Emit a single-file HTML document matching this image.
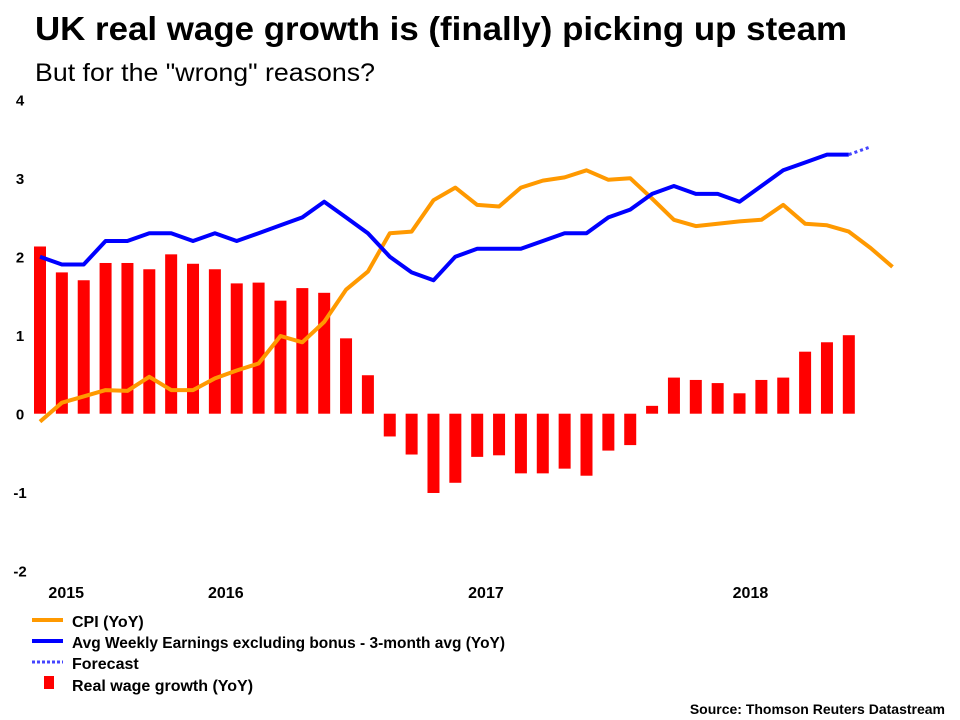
<!DOCTYPE html>
<html><head><meta charset="utf-8"><style>
html,body{margin:0;padding:0;background:#fff;}
svg{display:block;font-family:"Liberation Sans",Arial,sans-serif;}
</style></head><body>
<svg id="chart" width="960" height="720" viewBox="0 0 960 720">
<text x="35" y="40" font-size="33" font-weight="bold" textLength="812" lengthAdjust="spacingAndGlyphs">UK real wage growth is (finally) picking up steam</text>
<text x="35" y="81" font-size="25" textLength="340" lengthAdjust="spacingAndGlyphs">But for the "wrong" reasons?</text>
<g id="yaxis"></g>
<g id="xaxis"></g>
<g id="bars"></g>
<g id="lines"></g>
<g font-size="16" font-weight="bold">
 <g><line x1="32" y1="620" x2="63" y2="620" stroke="#FF9900" stroke-width="4"/><text x="72" y="627">CPI (YoY)</text></g>
 <g><line x1="32" y1="641" x2="63" y2="641" stroke="#0000FF" stroke-width="4"/><text x="72" y="648" textLength="433" lengthAdjust="spacingAndGlyphs">Avg Weekly Earnings excluding bonus - 3-month avg (YoY)</text></g>
 <g><line x1="32" y1="662" x2="63" y2="662" stroke="#4444FF" stroke-width="3" stroke-dasharray="3,2"/><text x="72" y="669">Forecast</text></g>
 <g><rect x="44" y="676" width="10" height="13" fill="#FF0000"/><text x="72" y="691">Real wage growth (YoY)</text></g>
</g>
<text x="945" y="714" font-size="14" font-weight="bold" text-anchor="end">Source: Thomson Reuters Datastream</text>
</svg>
<script>
const yTicks=[4,3,2,1,0,-1,-2];
const yearLabels=["2015","2016","2017","2018"];
const yearPos=[1.2,8.5,20.4,32.5];
const realWage=[2.13,1.80,1.70,1.92,1.92,1.84,2.03,1.91,1.84,1.66,1.67,1.44,1.60,1.54,0.96,0.49,-0.29,-0.52,-1.01,-0.88,-0.55,-0.53,-0.76,-0.76,-0.70,-0.79,-0.47,-0.40,0.10,0.46,0.43,0.39,0.26,0.43,0.46,0.79,0.91,1.00];
const earnings=[2.0,1.9,1.9,2.2,2.2,2.3,2.3,2.2,2.3,2.2,2.3,2.4,2.5,2.7,2.5,2.3,2.0,1.8,1.7,2.0,2.1,2.1,2.1,2.2,2.3,2.3,2.5,2.6,2.8,2.9,2.8,2.8,2.7,2.9,3.1,3.2,3.3,3.3];
const forecast=[3.3,3.4];
const cpi=[-0.10,0.14,0.22,0.30,0.29,0.47,0.30,0.30,0.45,0.55,0.64,0.99,0.91,1.17,1.58,1.81,2.30,2.32,2.72,2.88,2.66,2.64,2.88,2.97,3.01,3.10,2.98,3.00,2.74,2.47,2.39,2.42,2.45,2.47,2.66,2.42,2.40,2.32,2.11,1.87];

const NS="http://www.w3.org/2000/svg";
const x=i=>40+i*21.86;
const y=v=>413.7-v*78.5;
function mk(tag,attrs,parent){const e=document.createElementNS(NS,tag);for(const k in attrs)e.setAttribute(k,attrs[k]);parent.appendChild(e);return e;}
const ya=document.getElementById('yaxis');
yTicks.forEach(t=>{const e=mk('text',{x:20,y:y(t)+6,'font-size':15,'font-weight':'bold','text-anchor':'middle'},ya);e.textContent=t;

});
const xa=document.getElementById('xaxis');
yearLabels.forEach((l,i)=>{const e=mk('text',{x:x(yearPos[i]),y:598,'font-size':16,'font-weight':'bold','text-anchor':'middle'},xa);e.textContent=l;

});
const bg=document.getElementById('bars');
realWage.forEach((v,i)=>{const r=mk('rect',{x:x(i)-6,y:Math.min(y(v),y(0)),width:12,height:Math.abs(y(v)-y(0)),fill:'#FF0000'},bg);

});
const lg=document.getElementById('lines');
function pts(arr,off){return arr.map((v,i)=>x(i+off).toFixed(1)+','+y(v).toFixed(1)).join(' ');}
const c=mk('polyline',{points:pts(cpi,0),fill:'none',stroke:'#FF9900','stroke-width':4,'stroke-linejoin':'round'},lg);


const b=mk('polyline',{points:pts(earnings,0),fill:'none',stroke:'#0000FF','stroke-width':4,'stroke-linejoin':'round'},lg);


const f=mk('polyline',{points:pts(forecast,earnings.length-1),fill:'none',stroke:'#4444FF','stroke-width':3,'stroke-dasharray':'3,3'},lg);


</script>
</body></html>
